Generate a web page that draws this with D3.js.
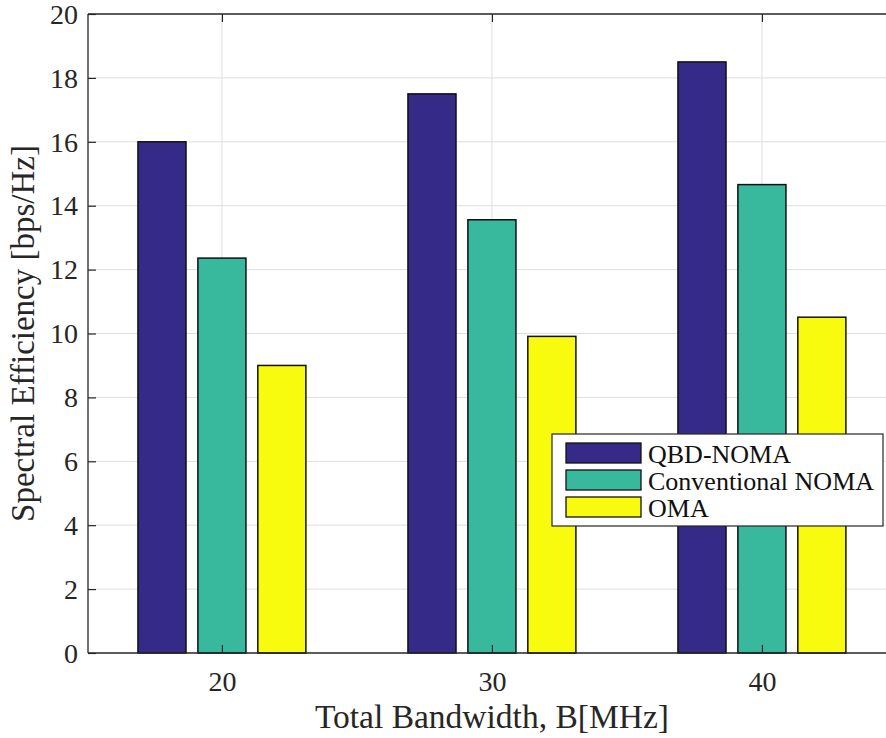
<!DOCTYPE html>
<html>
<head>
<meta charset="utf-8">
<script src="https://cdn.jsdelivr.net/npm/d3@7"></script>
<style>
  html, body { margin: 0; padding: 0; background: #fff; overflow: hidden; }
  svg { display: block; }
  svg text { font-family: "Liberation Serif", "Times New Roman", serif; }
</style>
</head>
<body>
<svg id="chart" width="886" height="738"></svg>
<script>
// Spectral efficiency vs. total bandwidth
const bandwidths = [20, 30, 40];
const seriesNames = ["QBD-NOMA", "Conventional NOMA", "OMA"];
const qbdNoma = [16.0, 17.5, 18.5];
const convNoma = [12.36, 13.56, 14.66];
const oma = [9.0, 9.91, 10.51];
const yTicks = [0, 2, 4, 6, 8, 10, 12, 14, 16, 18, 20];
const xTicks = [20, 30, 40];
const colors = ["#352a87", "#38b99e", "#f9fb0e"];

const seriesValues = [qbdNoma, convNoma, oma];

const svg = d3.select("#chart");
const margin = { left: 88, top: 14, bottom: 653 };
const axisColor = "#262626";

// x domain runs past the right edge of the canvas
const x = d3.scaleLinear().domain([15.04, 45.04]).range([margin.left, margin.left + 810]);
const y = d3.scaleLinear().domain([0, 20]).range([margin.bottom, margin.top]);

const barOffset = 2.22;   // group offset in x units
const barWidth = 1.78;    // bar width in x units

const plot = svg.append("g");

// grid
plot.append("g").selectAll("line").data(yTicks.slice(1, -1)).join("line")
  .attr("x1", margin.left).attr("x2", 886)
  .attr("y1", d => y(d)).attr("y2", d => y(d))
  .attr("stroke", "#dfdfdf").attr("stroke-width", 1);
plot.append("g").selectAll("line").data(xTicks).join("line")
  .attr("x1", d => x(d)).attr("x2", d => x(d))
  .attr("y1", margin.top).attr("y2", margin.bottom)
  .attr("stroke", "#dfdfdf").attr("stroke-width", 1);

// bars
seriesValues.forEach((vals, si) => {
  plot.append("g").selectAll("rect").data(vals).join("rect")
    .attr("x", (d, i) => x(bandwidths[i] + (si - 1) * barOffset - barWidth / 2))
    .attr("width", x(barWidth) - x(0))
    .attr("y", d => y(d))
    .attr("height", d => y(0) - y(d))
    .attr("fill", colors[si])
    .attr("stroke", "#111").attr("stroke-width", 1.5);
});

// axes (ticks pointing inward)
const yAxis = d3.axisLeft(y).tickValues(yTicks).tickSize(-8).tickPadding(10).tickFormat(d3.format("d"));
const gy = svg.append("g").attr("transform", `translate(${margin.left},0)`).call(yAxis);
gy.selectAll("text").style("font-size", "28px").attr("fill", axisColor).attr("dy", "0.33em");

const xAxis = d3.axisBottom(x).tickValues(xTicks).tickSize(-8).tickPadding(0).tickFormat(d3.format("d"));
const gx = svg.append("g").attr("transform", `translate(0,${margin.bottom})`).call(xAxis);
gx.selectAll("text").style("font-size", "28px").attr("fill", axisColor)
  .attr("y", 38).attr("dy", 0);

const xTop = d3.axisTop(x).tickValues(xTicks).tickSize(-8).tickFormat("");
const gt = svg.append("g").attr("transform", `translate(0,${margin.top})`).call(xTop);

[gy, gx, gt].forEach(g => {
  g.select(".domain").remove();
  g.selectAll(".tick line").attr("stroke", axisColor).attr("stroke-width", 1.2);
});

// box lines
svg.append("line").attr("x1", margin.left).attr("x2", margin.left)
  .attr("y1", margin.top).attr("y2", margin.bottom)
  .attr("stroke", axisColor).attr("stroke-width", 1.3);
svg.append("line").attr("x1", margin.left).attr("x2", 886)
  .attr("y1", margin.bottom).attr("y2", margin.bottom)
  .attr("stroke", axisColor).attr("stroke-width", 1.3);
svg.append("line").attr("x1", margin.left).attr("x2", 886)
  .attr("y1", margin.top).attr("y2", margin.top)
  .attr("stroke", axisColor).attr("stroke-width", 1.3);

// axis labels
svg.append("text").attr("x", x(30)).attr("y", 728)
  .attr("text-anchor", "middle").style("font-size", "33.5px").attr("fill", axisColor)
  .text("Total Bandwidth, B[MHz]");
svg.append("text").attr("transform", `translate(34,${(margin.top + margin.bottom) / 2}) rotate(-90)`)
  .attr("text-anchor", "middle").style("font-size", "33px").attr("fill", axisColor)
  .text("Spectral Efficiency [bps/Hz]");

// legend
const lg = svg.append("g").attr("transform", "translate(552,434)");
lg.append("rect").attr("width", 331).attr("height", 92)
  .attr("fill", "#fff").attr("stroke", axisColor).attr("stroke-width", 1.2);
seriesNames.forEach((name, i) => {
  const row = lg.append("g").attr("transform", `translate(0,${i * 27})`);
  row.append("rect").attr("x", 14).attr("y", 9).attr("width", 75).attr("height", 20)
    .attr("fill", colors[i]).attr("stroke", "#111").attr("stroke-width", 1.3);
  row.append("text").attr("x", 96).attr("y", 29)
    .style("font-size", "26px").attr("fill", "#111").text(name);
});
</script>
</body>
</html>
